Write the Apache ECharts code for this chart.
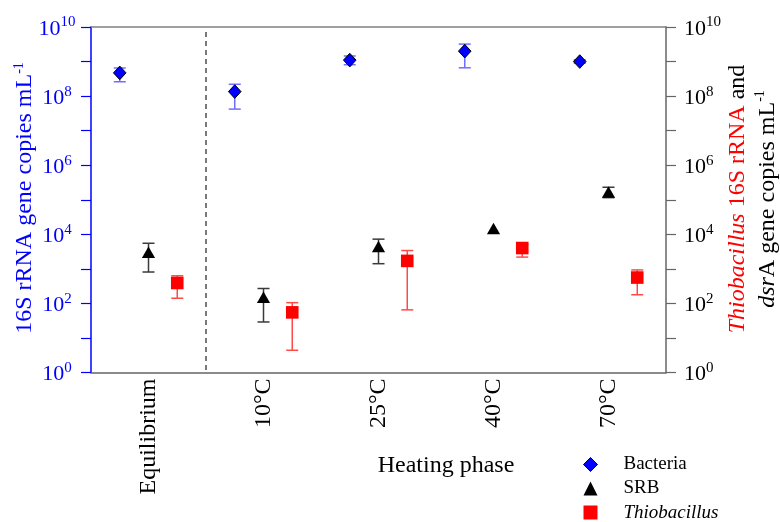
<!DOCTYPE html>
<html><head><meta charset="utf-8">
<script src="https://cdn.jsdelivr.net/npm/echarts@6/dist/echarts.min.js"></script>
<style>html,body{margin:0;padding:0;background:#fff}#c{width:780px;height:522px}</style>
</head><body><div id="c"></div>
<script>
// ---- data (gene copies per mL) ----
const categories = ['Equilibrium', '10°C', '25°C', '40°C', '70°C'];
const bacteriaMean = [4.7e8, 1.35e8, 1.1e9, 2.0e9, 1.0e9];
const bacteriaLow  = [2.6e8, 4.2e7, 8.1e8, 6.6e8, 8.9e8];
const bacteriaHigh = [6.5e8, 2.2e8, 1.45e9, 3.2e9, 1.12e9];
const srbMean = [2950, 148, 4370, 14500, 166000];
const srbLow  = [810, 29, 1410, null, 115000];
const srbHigh = [5500, 270, 7240, null, 230000];
const thioMean = [390, 55, 1700, 4000, 560];
const thioLow  = [141, 4.4, 65, 2190, 178];
const thioHigh = [630, 105, 3390, 5000, 930];
const dividerAfter = ['Equilibrium'];   // dashed separator after this category

const FONT = "'Liberation Serif','Times New Roman',serif";

function buildData(mean, low, high) {
  return mean.map((m, i) => [i, m, low[i] == null ? '-' : low[i], high[i] == null ? '-' : high[i]]);
}

function makeRenderer(kind, fill, errColor, offFrac) {
  return function (params, api) {
    const ci = api.value(0);
    const bw = api.size([1, 0])[0];
    const p = api.coord([ci, api.value(1)]);
    const x = p[0] + offFrac * bw;
    const y = p[1];
    const children = [];
    const lo = api.value(2), hi = api.value(3);
    if (isFinite(lo) && isFinite(hi) && lo > 0 && hi > 0) {
      const yl = api.coord([ci, lo])[1];
      const yh = api.coord([ci, hi])[1];
      const cap = 6;
      const ls = { stroke: errColor, lineWidth: 1.5 };
      children.push({ type: 'line', shape: { x1: x, y1: yl, x2: x, y2: yh }, style: ls });
      children.push({ type: 'line', shape: { x1: x - cap, y1: yl, x2: x + cap, y2: yl }, style: ls });
      children.push({ type: 'line', shape: { x1: x - cap, y1: yh, x2: x + cap, y2: yh }, style: ls });
    }
    if (kind === 'diamond') {
      children.push({ type: 'polygon', shape: { points: [[x, y - 6.8], [x + 6.3, y], [x, y + 6.8], [x - 6.3, y]] },
        style: { fill: fill, stroke: '#000', lineWidth: 1 } });
    } else if (kind === 'triangle') {
      children.push({ type: 'polygon', shape: { points: [[x, y - 6], [x + 6.6, y + 5.5], [x - 6.6, y + 5.5]] },
        style: { fill: fill } });
    } else {
      children.push({ type: 'rect', shape: { x: x - 6.3, y: y - 6.3, width: 12.6, height: 12.6 }, style: { fill: fill } });
    }
    return { type: 'group', children: children };
  };
}

function expLabel(v) {
  const e = Math.round(Math.log10(v));
  return e % 2 === 0 ? '{b|10}{s|' + e + '}' : '';
}

function labelRich(color) {
  return {
    b: { fontFamily: FONT, fontSize: 22, color: color, lineHeight: 24, padding: [4, 0, 0, 0] },
    s: { fontFamily: FONT, fontSize: 15, color: color, verticalAlign: 'top', lineHeight: 15 }
  };
}

const chart = echarts.init(document.getElementById('c'), null, { renderer: 'canvas' });
chart.setOption({
  animation: false,
  backgroundColor: '#fff',
  textStyle: { fontFamily: FONT },
  grid: { left: 91, right: 114, top: 27, bottom: 149.5, containLabel: false, outerBoundsMode: 'none' },
  legend: {
    orient: 'vertical', left: 583, top: 455, padding: 0, itemGap: 5,
    itemWidth: 14, itemHeight: 14,
    data: [
      { name: 'Bacteria', icon: 'diamond', itemStyle: { borderColor: '#000', borderWidth: 1 } },
      { name: 'SRB', icon: 'triangle' },
      { name: 'Thiobacillus', icon: 'rect' }
    ],
    formatter: function (n) { return n === 'Thiobacillus' ? '{i|' + n + '}' : '{n|' + n + '}'; },
    textStyle: {
      fontFamily: FONT, fontSize: 19, color: '#000', lineHeight: 19, padding: [0, 0, 0, 21],
      rich: {
        n: { fontFamily: FONT, fontSize: 19, color: '#000' },
        i: { fontFamily: FONT, fontSize: 19, color: '#000', fontStyle: 'italic' }
      }
    }
  },
  xAxis: [
    {
      type: 'category', data: categories, position: 'bottom',
      axisLine: { lineStyle: { color: '#666', width: 1.5 } },
      axisTick: { show: false },
      axisLabel: { rotate: 90, interval: 0, margin: 6, fontSize: 24, fontFamily: FONT, color: '#000' },
      splitLine: { show: false }
    },
    {
      type: 'category', data: categories, position: 'top',
      axisLine: { lineStyle: { color: '#808080', width: 1.5 } },
      axisTick: { show: false }, axisLabel: { show: false }, splitLine: { show: false }
    }
  ],
  yAxis: [
    {
      type: 'log', logBase: 10, min: 1, max: 1e10, interval: 1, splitNumber: 10, position: 'left',
      axisLine: { show: true, lineStyle: { color: '#0000ff', width: 1.5 } },
      axisTick: { show: true, inside: false, length: 10, lineStyle: { color: '#0000ff', width: 1.2 } },
      splitLine: { show: false }, minorTick: { show: false },
      axisLabel: { formatter: expLabel, align: 'center', margin: 34, color: '#0000ff', rich: labelRich('#0000ff') }
    },
    {
      type: 'log', logBase: 10, min: 1, max: 1e10, interval: 1, splitNumber: 10, position: 'right',
      axisLine: { show: true, lineStyle: { color: '#666', width: 1.5 } },
      axisTick: { show: true, inside: false, length: 10, lineStyle: { color: '#666', width: 1.2 } },
      splitLine: { show: false }, minorTick: { show: false },
      axisLabel: { formatter: expLabel, align: 'left', margin: 18, color: '#000', rich: labelRich('#000') }
    }
  ],
  graphic: [
    {
      type: 'text', x: 446, y: 466, silent: true,
      style: { text: 'Heating phase', font: '24px ' + FONT, fill: '#000', align: 'center', verticalAlign: 'middle' }
    },
    {
      type: 'text', x: 25, y: 198, rotation: Math.PI / 2, silent: true,
      style: {
        text: '{a|16S rRNA gene copies mL}{s|-1}',
        align: 'center', verticalAlign: 'middle', fill: '#0000ff', font: '24px ' + FONT,
        rich: {
          a: { fontFamily: FONT, fontSize: 24, fill: '#0000ff', lineHeight: 26 },
          s: { fontFamily: FONT, fontSize: 14, fill: '#0000ff', verticalAlign: 'top', lineHeight: 18 }
        }
      }
    },
    {
      type: 'text', x: 753, y: 199, rotation: Math.PI / 2, silent: true,
      style: {
        text: '{ti|Thiobacillus}{r| 16S rRNA}{k| and}\n{ki|dsr}{k|A gene copies mL}{ks|-1}',
        align: 'center', verticalAlign: 'middle', fill: '#000', font: '24px ' + FONT,
        rich: {
          ti: { fontFamily: FONT, fontSize: 24, fontStyle: 'italic', fill: '#ff0000', lineHeight: 30 },
          r: { fontFamily: FONT, fontSize: 24, fill: '#ff0000', lineHeight: 30 },
          k: { fontFamily: FONT, fontSize: 24, fill: '#000', lineHeight: 30 },
          ki: { fontFamily: FONT, fontSize: 24, fontStyle: 'italic', fill: '#000', lineHeight: 30 },
          ks: { fontFamily: FONT, fontSize: 14, fill: '#000', verticalAlign: 'top', lineHeight: 22 }
        }
      }
    }
  ],
  series: [
    {
      name: 'divider', type: 'custom', xAxisIndex: 0, yAxisIndex: 0, silent: true, z: 1,
      encode: { x: 0 },
      renderItem: function (params, api) {
        const bw = api.size([1, 0])[0];
        const x = api.coord([api.value(0), 1])[0] + bw / 2;
        const cs = params.coordSys;
        return { type: 'line', shape: { x1: x, y1: cs.y + 5, x2: x, y2: cs.y + cs.height },
          style: { stroke: '#222', lineWidth: 1.2, lineDash: [5, 4] } };
      },
      data: dividerAfter.map(c => [categories.indexOf(c)])
    },
    {
      name: 'Bacteria', type: 'custom', xAxisIndex: 0, yAxisIndex: 0,
      itemStyle: { color: '#0000ff' }, encode: { x: 0, y: 1 },
      renderItem: makeRenderer('diamond', '#0000ff', '#6f6fff', -0.25),
      data: buildData(bacteriaMean, bacteriaLow, bacteriaHigh), z: 3
    },
    {
      name: 'SRB', type: 'custom', xAxisIndex: 0, yAxisIndex: 1,
      itemStyle: { color: '#000' }, encode: { x: 0, y: 1 },
      renderItem: makeRenderer('triangle', '#000', '#3a3a3a', 0),
      data: buildData(srbMean, srbLow, srbHigh), z: 3
    },
    {
      name: 'Thiobacillus', type: 'custom', xAxisIndex: 0, yAxisIndex: 1,
      itemStyle: { color: '#ff0000' }, encode: { x: 0, y: 1 },
      renderItem: makeRenderer('square', '#ff0000', '#ff4a4a', 0.25),
      data: buildData(thioMean, thioLow, thioHigh), z: 3
    }
  ]
});
</script></body></html>
